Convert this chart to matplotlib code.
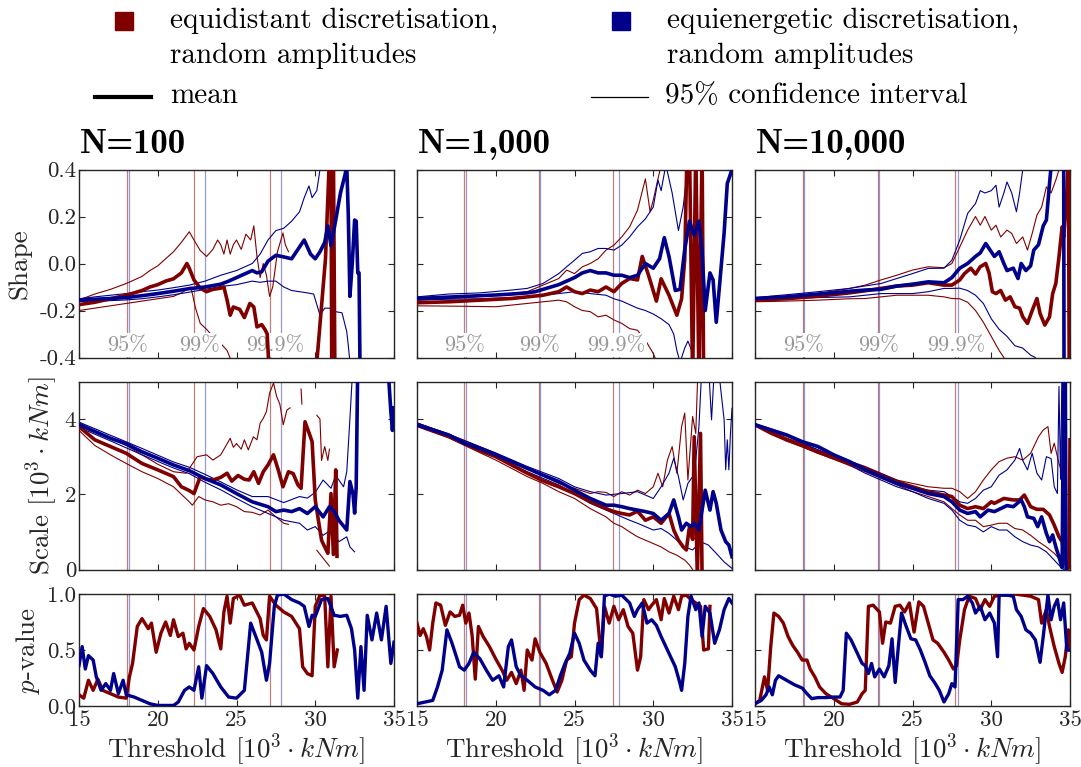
import numpy as np
import matplotlib
matplotlib.use("Agg")
import matplotlib.pyplot as plt
from matplotlib.lines import Line2D

plt.rcParams.update({
    "font.family": "cmr10",
    "mathtext.fontset": "cm",
    "axes.unicode_minus": False,
    "axes.formatter.use_mathtext": True,
})

RED = "#800000"
BLUE = "#00008b"
nan = np.nan

# ---------------------------------------------------------------- N = 100
shape100_eqd_mean = [(15,-0.175),(16,-0.165),(17,-0.15),(18,-0.135),(19,-0.115),(19.5,-0.1),(20,-0.09),(20.5,-0.075),(21,-0.065),(21.5,-0.04),(21.85,0.0),(22.0,-0.02),(22.3,-0.07),(22.7,-0.105),(23.1,-0.12),(23.5,-0.11),(24.0,-0.105),(24.2,-0.1),(24.4,-0.155),(24.6,-0.22),(24.8,-0.185),(25.2,-0.195),(25.5,-0.23),(25.85,-0.17),(26.1,-0.185),(26.3,-0.27),(26.6,-0.26),(26.8,-0.28),(26.95,-0.3),(27.1,-0.5),(29.9,-0.5),(30.1,-0.42),(30.4,-0.18),(30.65,0.02),(30.9,0.45),(31.0,0.45),(31.05,-0.5),(31.15,0.5),(31.25,-0.5)]
shape100_eqd_lo = [(15,-0.2),(16,-0.19),(17,-0.18),(18,-0.17),(19,-0.16),(20,-0.15),(21,-0.14),(21.5,-0.125),(22.1,-0.1),(22.4,-0.19),(22.7,-0.255),(23.1,-0.28),(23.5,-0.31),(24.0,-0.34),(24.4,-0.37),(24.7,-0.42)]
shape100_eqd_hi = [(15,-0.155),(16,-0.13),(17,-0.11),(18,-0.085),(19,-0.055),(19.5,-0.03),(20,-0.01),(20.5,0.02),(21,0.05),(21.5,0.09),(22.0,0.135),(22.3,0.1),(22.7,0.055),(23.1,0.03),(23.5,0.06),(23.8,0.1),(24.0,0.08),(24.2,0.04),(24.4,0.1),(24.6,0.04),(24.8,0.08),(25.0,0.1),(25.3,0.06),(25.6,0.125),(25.9,0.1),(26.1,0.16),(26.3,0.03),(26.5,-0.06),(26.7,0.0),(26.9,-0.05),(27.1,-0.14),(27.3,-0.1),(27.6,0.05),(27.95,0.13),(28.1,0.08),(28.3,0.05)]
shape100_eqe_mean = [(15,-0.155),(16,-0.152),(17,-0.149),(18,-0.145),(19,-0.137),(20,-0.128),(21,-0.118),(22,-0.107),(23,-0.1),(24,-0.088),(24.5,-0.075),(25,-0.06),(25.5,-0.045),(26,-0.03),(26.3,-0.04),(26.6,-0.035),(27,0.01),(27.5,0.035),(28,0.028),(28.5,0.02),(29,0.07),(29.3,0.1),(29.7,0.04),(30,0.02),(30.3,0.05),(30.6,0.09),(30.8,0.16),(31.0,0.075),(31.3,0.185),(31.6,0.3),(31.9,0.38),(32.0,0.42),(32.1,0.2),(32.2,-0.14),(32.35,0.0),(32.5,0.185),(32.6,0.18),(32.7,-0.04),(32.78,-0.04),(32.85,-0.5)]
shape100_eqe_lo = [(15,-0.162),(16,-0.16),(17,-0.158),(18,-0.155),(19,-0.15),(20,-0.142),(21,-0.133),(22,-0.122),(23,-0.11),(24,-0.098),(25,-0.09),(26,-0.075),(26.5,-0.08),(27,-0.075),(27.5,-0.075),(28,-0.1),(28.5,-0.115),(29,-0.12),(29.5,-0.125),(29.9,-0.13),(30.3,-0.22),(30.6,-0.19),(30.9,-0.19),(31.3,-0.205),(31.7,-0.21),(32.0,-0.29),(32.1,-0.35),(32.2,-0.42)]
shape100_eqe_hi = [(15,-0.15),(16,-0.142),(17,-0.135),(18,-0.128),(19,-0.12),(20,-0.113),(21,-0.103),(22,-0.092),(23,-0.075),(24,-0.05),(25,-0.03),(26,0.0),(26.5,0.04),(27,0.1),(27.5,0.14),(28,0.15),(28.5,0.18),(29,0.22),(29.3,0.28),(29.6,0.33),(29.8,0.28),(30.1,0.31),(30.3,0.4),(30.5,0.45)]

scale100_eqd_mean = [(15,3.8),(16,3.45),(17,3.27),(18,3.09),(19,2.82),(20,2.65),(21,2.47),(21.5,2.2),(22.0,2.1),(22.3,2.02),(22.7,2.47),(23.1,2.4),(23.5,2.38),(24.0,2.45),(24.4,2.56),(24.7,2.35),(25.1,2.5),(25.5,2.4),(25.8,2.38),(26.1,2.6),(26.4,2.29),(26.7,2.6),(27.0,2.78),(27.35,3.05),(27.65,2.65),(27.95,2.2),(28.3,2.6),(28.6,2.55),(28.9,2.25),(29.1,2.16),(29.35,3.93),(29.65,3.58),(29.8,3.4),(30.0,1.85),(30.2,1.31),(30.4,0.78),(30.6,0.6),(30.8,0.43),(31.0,2.02),(31.15,0.4),(31.3,2.65),(31.38,0.35)]
scale100_eqd_hi = [(15,3.9),(16,3.7),(17,3.5),(18,3.3),(19,3.05),(20,2.8),(21,2.6),(21.8,2.56),(22.5,3.0),(23.1,3.05),(23.5,2.91),(24.0,3.05),(24.6,3.49),(24.8,3.25),(25.0,3.35),(25.3,3.2),(25.5,3.45),(25.75,3.18),(26.07,3.53),(26.3,3.45),(26.5,3.89),(26.7,4.02),(26.9,4.2),(27.1,4.69),(27.35,4.96),(27.55,4.6),(27.75,4.4),(27.97,3.85),(28.2,4.24),(28.4,4.3),(28.5,nan),(29.1,4.8),(29.15,4.4),(29.3,nan),(30.1,4.1),(30.3,4.0),(30.4,2.9),(30.6,3.27),(30.8,2.9),(30.9,3.2)]
scale100_eqd_lo = [(15,3.7),(16,3.3),(17,3.05),(18,2.82),(19,2.6),(20,2.42),(21,2.2),(22,1.8),(22.2,1.71),(22.6,1.94),(23,1.85),(23.5,1.8),(24,1.71),(24.5,1.75),(25,1.67),(25.5,1.54),(26,1.52),(26.5,1.45),(27,1.58),(27.5,1.4),(28,1.23),(28.3,1.2),(28.4,nan),(30.1,0.51),(30.5,0.3),(30.9,0.09)]
scale100_eqe_mean = [(15,3.85),(16,3.67),(17,3.49),(18,3.34),(19,3.13),(20,2.96),(21,2.78),(22,2.63),(23,2.42),(24,2.25),(25,2.02),(26,1.8),(27,1.67),(27.5,1.54),(28,1.58),(28.5,1.54),(29,1.62),(29.5,1.49),(30,1.67),(30.5,1.4),(30.9,1.67),(31.2,1.55),(31.5,1.31),(32,1.05),(32.2,2.34),(32.4,2.0),(32.5,1.5),(32.6,2.2),(32.7,5.5),(34.6,5.5),(34.8,4.2),(34.9,3.7),(35,4.3)]
scale100_eqe_hi = [(15,3.92),(17,3.57),(19,3.22),(21,2.86),(22,2.72),(23,2.53),(24,2.33),(25,2.12),(26,1.94),(27,1.94),(28,1.78),(29,1.94),(29.5,1.9),(30,2.05),(30.5,2.38),(31,2.16),(31.3,2.5),(31.8,2.2),(32.0,2.6),(32.2,4.0),(32.4,5.5)]
scale100_eqe_lo = [(15,3.78),(17,3.42),(19,3.05),(21,2.7),(22,2.55),(23,2.32),(24,2.12),(25,1.89),(26,1.67),(27,1.49),(28,1.31),(29,1.23),(29.5,1.05),(30,1.14),(30.5,0.91),(31,1.05),(31.5,0.74),(32,0.87),(32.2,0.6),(32.5,0.47)]

p100_eqd = [(15,0.1),(15.3,0.07),(15.6,0.23),(15.9,0.14),(16.2,0.24),(16.5,0.14),(17,0.11),(17.5,0.08),(18,0.07),(18.2,0.26),(18.4,0.38),(18.7,0.71),(19,0.78),(19.4,0.69),(19.6,0.74),(19.9,0.48),(20.2,0.65),(20.5,0.75),(20.8,0.63),(21,0.77),(21.3,0.62),(21.6,0.65),(21.8,0.51),(22,0.56),(22.3,0.5),(22.6,0.71),(22.9,0.87),(23.3,0.8),(23.7,0.68),(24,0.51),(24.2,0.84),(24.4,0.98),(24.6,0.74),(24.8,0.96),(25.2,0.99),(25.5,0.9),(26,0.92),(26.5,0.78),(26.7,0.63),(26.9,0.59),(27.1,0.98),(27.5,0.9),(28,0.84),(28.5,0.8),(29,0.69),(29.2,0.35),(29.5,0.29),(29.8,0.27),(30,0.89),(30.3,0.99),(30.6,0.98),(30.8,0.35),(31,0.98),(31.2,0.35),(31.4,0.5)]
p100_eqe = [(15,0.36),(15.2,0.53),(15.4,0.33),(15.6,0.45),(15.9,0.41),(16.1,0.26),(16.4,0.14),(16.7,0.2),(17,0.14),(17.2,0.29),(17.5,0.11),(17.8,0.23),(18,0.1),(18.5,0.08),(19,0.05),(19.5,0.02),(20,0.005),(21,0.005),(21.3,0.035),(21.7,0.14),(22,0.17),(22.3,0.14),(22.6,0.35),(22.8,0.07),(23.1,0.36),(23.5,0.29),(24,0.17),(24.5,0.08),(25,0.07),(25.5,0.14),(25.9,0.74),(26.2,0.63),(26.6,0.48),(26.9,0.23),(27.1,0.38),(27.4,0.89),(27.6,0.99),(28,1.0),(28.5,0.95),(29,0.92),(29.3,0.89),(29.6,0.71),(29.8,0.81),(30,0.8),(30.4,0.95),(30.8,0.96),(31.2,0.81),(31.6,0.8),(32,0.81),(32.3,0.69),(32.5,0.5),(32.7,0.07),(32.9,0.53),(33.1,0.14),(33.3,0.81),(33.6,0.59),(33.9,0.83),(34.2,0.59),(34.5,0.89),(34.8,0.38),(35,0.57)]

# ---------------------------------------------------------------- N = 1,000
shape1k_eqd_mean = [(15,-0.167),(17,-0.163),(19,-0.156),(21,-0.149),(22,-0.142),(23,-0.135),(24,-0.12),(24.5,-0.1),(25,-0.12),(25.5,-0.128),(26,-0.113),(26.5,-0.12),(27,-0.1),(27.5,-0.12),(28,-0.085),(28.5,-0.064),(29,-0.07),(29.3,0.03),(29.7,-0.05),(30.2,-0.16),(30.5,-0.065),(31.0,-0.135),(31.5,-0.22),(31.8,-0.15),(32.0,0.02),(32.15,0.5),(32.3,0.5),(32.5,-0.5),(32.7,0.5),(32.9,-0.5),(33.1,0.5),(33.2,-0.5)]
shape1k_eqd_hi = [(15,-0.156),(18,-0.145),(20,-0.135),(22,-0.12),(23,-0.092),(24,-0.064),(24.5,-0.028),(25,-0.043),(25.5,-0.014),(26,0.0),(26.5,0.02),(27,0.057),(27.5,0.078),(28,0.113),(28.5,0.156),(29,0.227),(29.5,0.36),(29.8,0.22),(30.0,0.27),(30.3,0.36),(30.6,0.45)]
shape1k_eqd_lo = [(15,-0.18),(18,-0.182),(20,-0.184),(22,-0.17),(23,-0.163),(24,-0.156),(24.5,-0.163),(25,-0.184),(25.5,-0.2),(26,-0.205),(26.5,-0.227),(27,-0.22),(27.5,-0.24),(28,-0.255),(28.5,-0.277),(29,-0.284),(29.5,-0.326),(30,-0.383),(30.3,-0.43)]
shape1k_eqe_mean = [(15,-0.148),(16,-0.146),(17,-0.143),(18,-0.14),(19,-0.137),(20,-0.134),(21,-0.13),(22,-0.125),(22.5,-0.12),(23,-0.11),(23.5,-0.1),(24,-0.09),(24.5,-0.075),(25,-0.06),(25.5,-0.04),(26,-0.03),(26.5,-0.04),(27,-0.04),(27.5,-0.05),(28,-0.05),(28.5,-0.06),(29,-0.05),(29.5,0.0),(30,-0.02),(30.4,0.02),(30.7,0.11),(31.0,0.03),(31.4,-0.115),(31.7,-0.11),(32.0,0.06),(32.3,0.18),(32.6,0.12),(32.9,0.18),(33.1,0.05),(33.3,-0.2),(33.6,-0.04),(33.8,-0.07),(34.0,-0.25),(34.2,-0.1),(34.5,0.13),(34.7,0.34),(35,0.4)]
shape1k_eqe_hi = [(15,-0.142),(17,-0.13),(19,-0.125),(21,-0.113),(22,-0.106),(23,-0.085),(24,-0.043),(24.5,-0.014),(25,0.014),(25.5,0.043),(26,0.05),(26.5,0.064),(27,0.064),(27.5,0.057),(28,0.078),(28.5,0.113),(29,0.156),(29.5,0.19),(30,0.24),(30.3,0.355),(30.5,0.31),(30.8,0.42),(31.2,0.3),(31.6,0.14),(31.9,0.24),(32.1,0.36),(32.3,0.5)]
shape1k_eqe_lo = [(15,-0.156),(17,-0.152),(19,-0.15),(21,-0.145),(22,-0.142),(23,-0.135),(24,-0.128),(25,-0.12),(26,-0.128),(27,-0.135),(27.5,-0.15),(28,-0.16),(28.5,-0.175),(29,-0.19),(29.5,-0.2),(30,-0.215),(30.5,-0.235),(31,-0.26),(31.3,-0.3),(31.5,-0.37),(31.7,-0.42),(32.0,-0.36),(32.2,-0.33),(32.5,-0.38),(32.7,-0.45)]

scale1k_eqd_mean = [(15,3.85),(17,3.55),(19,3.16),(20,3.0),(21,2.78),(22,2.56),(23,2.36),(24,2.2),(25,2.02),(26,1.8),(27,1.62),(27.5,1.54),(28,1.49),(28.5,1.45),(29,1.55),(29.5,1.31),(30,1.4),(30.5,1.23),(31,1.49),(31.3,1.05),(31.6,0.78),(31.9,0.6),(32.1,0.52),(32.3,1.14),(32.5,0.8),(32.6,3.53),(32.8,-0.2),(33.0,3.62),(33.1,-0.2)]
scale1k_eqd_hi = [(15,3.9),(17,3.6),(20,3.09),(22,2.68),(24,2.29),(25,2.16),(26,2.02),(26.5,2.07),(27,2.05),(27.5,1.94),(28,2.07),(28.5,1.98),(29,2.11),(29.5,2.02),(30,2.2),(30.3,2.56),(30.6,2.2),(30.9,2.91),(31.2,3.27),(31.5,2.56),(31.8,3.8),(32.0,4.16),(32.2,2.38),(32.5,4.07),(32.7,3.62),(32.85,5.5)]
scale1k_eqd_lo = [(15,3.8),(17,3.5),(20,2.91),(22,2.47),(23,2.29),(24,2.07),(25,1.89),(26,1.62),(27,1.4),(27.5,1.23),(28,1.14),(28.5,1.0),(29,0.87),(29.5,0.78),(30,0.69),(30.5,0.6),(31,0.47),(31.5,0.38),(32,0.25),(32.3,0.12),(32.5,0.0)]
scale1k_eqe_mean = [(15,3.85),(17,3.58),(18,3.36),(19,3.22),(20,3.05),(21,2.87),(22,2.69),(23,2.51),(24,2.34),(25,2.11),(26,1.89),(26.5,1.8),(27,1.71),(27.5,1.71),(28,1.67),(28.5,1.62),(29,1.58),(29.5,1.54),(30,1.49),(30.5,1.31),(31,1.49),(31.3,1.85),(31.6,1.4),(31.8,1.05),(32.1,1.23),(32.4,1.14),(32.6,1.23),(32.9,1.05),(33.1,1.58),(33.3,2.11),(33.6,1.58),(33.8,2.07),(34.0,1.76),(34.3,1.05),(34.6,0.74),(34.8,0.65),(35,0.34)]
scale1k_eqe_hi = [(15,3.9),(17,3.6),(20,3.1),(22,2.74),(24,2.42),(25,2.2),(26,2.07),(27,1.98),(28,2.02),(29,2.07),(30,1.89),(30.5,2.2),(31,2.56),(31.3,2.96),(31.6,2.47),(31.9,1.85),(32.2,2.29),(32.5,2.47),(32.7,2.91),(32.9,3.8),(33.1,5.5),(33.5,5.5),(33.7,3.98),(33.9,5.5),(34.1,5.5),(34.5,3.98),(34.6,2.65),(34.7,3.45),(34.8,2.65),(34.9,3.6),(35,4.29)]
scale1k_eqe_lo = [(15,3.82),(17,3.52),(20,3.0),(22,2.6),(24,2.25),(25,2.02),(26,1.76),(27,1.58),(28,1.4),(28.5,1.31),(29,1.23),(29.5,1.14),(30,1.05),(30.5,1.09),(31,0.96),(31.5,0.78),(32,0.6),(32.5,0.52),(33,0.74),(33.5,0.65),(34,0.43),(34.5,0.2),(35,0.03)]

p1k_eqd = [(15,0.74),(15.2,0.63),(15.4,0.69),(15.6,0.62),(15.8,0.5),(16.0,0.74),(16.2,0.92),(16.5,0.9),(16.8,0.72),(17.1,0.84),(17.4,0.8),(17.7,0.81),(17.9,0.9),(18.1,0.74),(18.3,0.83),(18.5,0.63),(18.7,0.24),(18.9,0.71),(19.2,0.62),(19.6,0.53),(20,0.42),(20.4,0.32),(20.7,0.23),(21.0,0.3),(21.3,0.2),(21.6,0.32),(21.8,0.14),(22.0,0.5),(22.3,0.41),(22.5,0.6),(22.8,0.48),(23.2,0.38),(23.6,0.23),(23.9,0.125),(24.2,0.23),(24.5,0.41),(24.8,0.44),(25.0,0.74),(25.3,0.95),(25.6,0.99),(26.0,0.96),(26.4,0.87),(26.7,0.44),(26.9,0.89),(27.2,0.74),(27.5,0.89),(27.8,0.77),(28.1,0.86),(28.4,0.71),(28.7,0.65),(29.0,0.32),(29.2,0.44),(29.4,0.95),(29.7,0.86),(29.9,0.9),(30.2,0.95),(30.5,0.77),(30.7,0.96),(31.0,0.83),(31.3,0.98),(31.6,0.86),(31.8,0.98),(32.1,0.99),(32.4,0.95),(32.7,0.92),(33.0,0.89),(33.2,0.5),(33.5,0.51),(33.6,0.89)]
p1k_eqe = [(15,0.02),(15.5,0.035),(16.0,0.05),(16.3,0.17),(16.6,0.32),(16.9,0.68),(17.2,0.57),(17.5,0.44),(17.7,0.35),(18.0,0.32),(18.3,0.38),(18.6,0.48),(19.0,0.42),(19.4,0.32),(19.8,0.23),(20.2,0.27),(20.5,0.17),(20.8,0.53),(21.0,0.59),(21.3,0.35),(21.6,0.27),(22.0,0.23),(22.5,0.17),(23.0,0.14),(23.4,0.1),(23.8,0.14),(24.1,0.27),(24.4,0.38),(24.7,0.47),(25.0,0.65),(25.3,0.56),(25.6,0.41),(26.0,0.32),(26.3,0.27),(26.5,0.56),(26.7,0.44),(26.9,0.98),(27.2,1.0),(27.6,0.98),(28.0,0.99),(28.5,0.92),(28.8,0.8),(29.0,0.86),(29.3,0.92),(29.6,0.74),(29.9,0.77),(30.2,0.72),(30.5,0.62),(30.8,0.53),(31.1,0.44),(31.4,0.35),(31.7,0.2),(31.8,0.14),(32.0,0.38),(32.2,0.8),(32.4,0.98),(32.7,0.86),(32.9,0.92),(33.1,0.62),(33.3,0.89),(33.6,0.83),(33.9,0.56),(34.2,0.68),(34.5,0.86),(34.8,0.96),(35,0.92)]

# ---------------------------------------------------------------- N = 10,000
shape10k_eqd_mean = [(15,-0.156),(17,-0.15),(19,-0.139),(21,-0.125),(22,-0.116),(23,-0.106),(24,-0.096),(25,-0.092),(26,-0.082),(27,-0.092),(27.5,-0.092),(28,-0.07),(28.3,-0.043),(28.7,-0.02),(29.0,-0.045),(29.3,-0.014),(29.65,0.0),(29.86,-0.04),(30.07,-0.12),(30.3,-0.128),(30.6,-0.115),(30.9,-0.156),(31.2,-0.142),(31.5,-0.184),(31.8,-0.19),(32.0,-0.227),(32.3,-0.255),(32.6,-0.2),(32.9,-0.149),(33.1,-0.213),(33.4,-0.262),(33.7,-0.227),(33.9,-0.128),(34.1,-0.085),(34.3,0.028),(34.5,0.156),(34.6,0.113),(34.8,0.3),(34.9,0.45),(34.95,-0.45)]
shape10k_eqd_hi = [(15,-0.153),(17,-0.142),(19,-0.128),(21,-0.106),(22,-0.092),(23,-0.07),(24,-0.05),(25,-0.028),(26,-0.014),(27,-0.018),(27.5,0.0),(28,0.07),(28.5,0.142),(29,0.2),(29.3,0.163),(29.6,0.2),(30,0.142),(30.3,0.163),(30.6,0.113),(31,0.142),(31.3,0.128),(31.6,0.085),(32,0.113),(32.3,0.057),(32.6,0.128),(32.9,0.206),(33.2,0.24),(33.5,0.326),(33.8,0.3),(34.1,0.355),(34.4,0.42)]
shape10k_eqd_lo = [(15,-0.163),(17,-0.16),(19,-0.156),(21,-0.15),(22,-0.149),(23,-0.142),(24,-0.135),(25,-0.135),(26,-0.135),(27,-0.142),(27.5,-0.149),(28,-0.15),(28.5,-0.165),(29,-0.2),(29.5,-0.25),(30,-0.31),(30.5,-0.37),(30.8,-0.4),(31.0,-0.43)]
shape10k_eqe_mean = [(15,-0.149),(17,-0.142),(19,-0.13),(20,-0.125),(21,-0.118),(22,-0.113),(23,-0.11),(24,-0.096),(25,-0.088),(26,-0.078),(27,-0.082),(27.5,-0.06),(28,-0.02),(28.5,0.0),(29,0.03),(29.3,0.045),(29.65,0.085),(30,0.05),(30.2,0.03),(30.5,0.05),(30.8,0.0),(31.0,-0.03),(31.4,-0.02),(31.7,-0.064),(31.9,0.0),(32.2,-0.03),(32.5,-0.01),(32.7,0.057),(33.0,0.08),(33.3,0.16),(33.5,0.185),(33.7,0.34),(33.85,0.45),(34.6,0.45),(34.62,-0.45)]
shape10k_eqe_hi = [(15,-0.145),(17,-0.133),(19,-0.12),(21,-0.106),(23,-0.085),(24,-0.064),(25,-0.043),(26,-0.021),(27,-0.02),(27.5,0.014),(28,0.1),(28.5,0.213),(29,0.255),(29.3,0.31),(29.6,0.3),(30,0.31),(30.3,0.333),(30.5,0.24),(30.8,0.3),(31.0,0.347),(31.3,0.3),(31.6,0.22),(31.8,0.3),(32.0,0.4),(32.3,0.45)]
shape10k_eqe_lo = [(15,-0.155),(17,-0.15),(19,-0.145),(21,-0.142),(22,-0.135),(23,-0.128),(24,-0.128),(25,-0.128),(26,-0.12),(27,-0.106),(27.5,-0.106),(28,-0.105),(28.5,-0.115),(29,-0.135),(29.5,-0.17),(30,-0.235),(30.5,-0.28),(31,-0.31),(31.5,-0.35),(32,-0.36),(32.5,-0.39),(32.8,-0.4),(33.0,-0.43)]

scale10k_eqd_mean = [(15,3.85),(16,3.63),(17,3.45),(18,3.3),(19,3.12),(20,2.97),(21,2.82),(22,2.68),(23,2.5),(24,2.33),(25,2.2),(26,2.07),(27,1.98),(27.5,1.94),(28,1.71),(28.5,1.62),(29,1.67),(29.5,1.62),(30,1.8),(30.2,1.76),(30.8,1.89),(31.4,1.85),(31.8,1.85),(32.1,1.98),(32.5,1.67),(32.9,1.6),(33.3,1.6),(33.7,1.45),(34.0,1.18),(34.3,0.87),(34.5,0.74),(34.7,0.25),(34.85,0.03),(34.95,0.05),(35,3.45)]
scale10k_eqd_hi = [(15,3.88),(17,3.5),(20,3.02),(22,2.74),(24,2.38),(25,2.29),(26,2.2),(27,2.16),(27.5,2.16),(28,2.07),(28.5,1.89),(29,2.07),(29.5,2.38),(30,2.65),(30.5,2.87),(31,2.96),(31.5,3.0),(32,2.91),(32.5,3.09),(33,3.53),(33.3,3.71),(33.6,3.8),(33.8,3.09),(34.0,3.36),(34.3,2.82),(34.5,2.56)]
scale10k_eqd_lo = [(15,3.82),(17,3.42),(20,2.93),(22,2.6),(24,2.25),(25,2.07),(26,1.94),(27,1.8),(27.5,1.62),(28,1.45),(28.5,1.31),(29,1.31),(29.5,1.14),(30,1.18),(30.5,1.23),(31,1.23),(31.5,1.09),(32,1.05),(32.5,0.91),(33,0.74),(33.5,0.6),(34,0.43),(34.5,0.2),(34.9,0.03)]
scale10k_eqe_mean = [(15,3.85),(17,3.58),(18,3.4),(19,3.27),(20,3.05),(21,2.87),(22,2.65),(23,2.47),(24,2.29),(25,2.16),(26,2.02),(27,1.94),(27.5,1.8),(28,1.58),(28.5,1.49),(29,1.54),(29.3,1.4),(29.8,1.58),(30.2,1.54),(30.6,1.62),(31.0,1.7),(31.4,1.67),(31.9,1.85),(32.1,1.67),(32.3,1.4),(32.7,1.36),(32.95,1.14),(33.2,1.4),(33.5,0.96),(33.7,0.74),(33.9,0.92),(34.1,0.6),(34.3,0.34),(34.5,0.05),(34.6,5.5),(34.7,5.5),(34.75,0.0),(34.8,-0.2)]
scale10k_eqe_hi = [(15,3.88),(17,3.6),(20,3.06),(22,2.72),(24,2.38),(25,2.2),(26,2.11),(27,2.07),(27.5,1.94),(28,1.8),(28.5,1.76),(29,1.89),(29.5,2.11),(30,2.2),(30.5,2.51),(31,2.65),(31.5,2.91),(31.8,3.22),(32,2.9),(32.3,2.65),(32.6,3.09),(32.9,2.56),(33.2,2.38),(33.5,3.0),(33.8,2.95),(34.0,2.2),(34.2,2.02),(34.3,4.87),(34.4,2.4),(34.5,5.5)]
scale10k_eqe_lo = [(15,3.82),(17,3.55),(20,3.0),(22,2.56),(24,2.2),(25,2.07),(26,1.89),(27,1.76),(27.5,1.58),(28,1.31),(28.5,1.18),(29,1.14),(29.5,1.0),(30,1.14),(30.5,1.05),(31,1.05),(31.5,0.87),(32,0.74),(32.5,0.65),(33,0.6),(33.5,0.47),(34,0.25),(34.4,0.07),(34.6,0.0)]

p10k_eqd = [(15,0.02),(15.3,0.05),(15.6,0.26),(15.8,0.14),(16.0,0.53),(16.2,0.83),(16.5,0.8),(16.8,0.74),(17.1,0.62),(17.4,0.54),(17.7,0.48),(18.0,0.41),(18.3,0.41),(18.5,0.33),(18.8,0.26),(19.1,0.17),(19.5,0.11),(20.0,0.066),(20.5,0.02),(21,0.015),(21.5,0.036),(21.8,0.11),(22.0,0.14),(22.2,0.89),(22.5,0.9),(22.9,0.84),(23.1,0.56),(23.3,0.75),(23.6,0.74),(23.9,0.89),(24.2,0.9),(24.5,0.84),(24.8,0.92),(25.1,0.66),(25.4,0.93),(25.7,0.89),(26.0,0.74),(26.3,0.59),(26.6,0.56),(27.0,0.48),(27.3,0.41),(27.6,0.33),(27.8,0.36),(28.0,0.59),(28.3,0.86),(28.6,0.98),(29.0,0.96),(29.3,0.86),(29.6,0.95),(29.9,0.89),(30.2,0.98),(30.6,0.99),(31.0,0.99),(31.5,1.0),(32.0,0.99),(32.5,0.98),(33.0,0.95),(33.2,0.74),(33.5,0.86),(33.7,0.71),(34.0,0.53),(34.3,0.38),(34.5,0.3),(34.7,0.44),(34.9,0.68),(35,0.5)]
p10k_eqe = [(15,0.02),(15.4,0.05),(15.7,0.1),(15.9,0.17),(16.1,0.1),(16.3,0.23),(16.5,0.27),(17.0,0.23),(17.5,0.19),(18.0,0.16),(18.3,0.11),(18.6,0.066),(19.0,0.075),(19.5,0.075),(20.0,0.08),(20.4,0.08),(20.6,0.14),(20.8,0.65),(21.1,0.59),(21.5,0.47),(21.8,0.38),(22.0,0.36),(22.2,0.29),(22.4,0.38),(22.6,0.26),(22.9,0.33),(23.2,0.26),(23.5,0.36),(23.7,0.6),(23.9,0.21),(24.1,0.53),(24.3,0.83),(24.6,0.71),(24.9,0.6),(25.2,0.59),(25.5,0.5),(25.8,0.39),(26.1,0.27),(26.4,0.21),(26.7,0.14),(27.0,0.036),(27.3,0.11),(27.5,0.2),(27.7,0.17),(27.9,0.95),(28.2,0.95),(28.5,0.98),(28.8,0.92),(29.0,0.83),(29.3,0.89),(29.6,0.77),(29.9,0.83),(30.2,0.74),(30.4,0.44),(30.5,0.99),(31.0,0.99),(31.4,0.98),(31.6,0.86),(31.9,0.8),(32.2,0.68),(32.5,0.65),(32.8,0.59),(33.1,0.39),(33.3,0.62),(33.6,0.99),(33.8,0.77),(34.0,0.89),(34.2,0.95),(34.4,0.77),(34.6,0.92),(34.8,0.5),(35,0.5)]

# threshold quantiles (95 %, 99 %, 99.9 %) for each discretisation
quant_eqd = {100: [18.03, 22.3, 27.13], 1000: [17.97, 22.72, 27.43], 10000: [18.06, 22.79, 27.7]}
quant_eqe = {100: [18.17, 23.0, 27.83], 1000: [18.1, 22.83, 27.85], 10000: [18.14, 22.88, 27.89]}
quant_labels = ["95%", "99%", "99.9%"]

sample_sizes = [100, 1000, 10000]
titles = ["N=100", "N=1,000", "N=10,000"]

panels = {
    100: dict(
        shape=(shape100_eqd_mean, shape100_eqd_lo, shape100_eqd_hi,
               shape100_eqe_mean, shape100_eqe_lo, shape100_eqe_hi),
        scale=(scale100_eqd_mean, scale100_eqd_lo, scale100_eqd_hi,
               scale100_eqe_mean, scale100_eqe_lo, scale100_eqe_hi),
        p=(p100_eqd, p100_eqe)),
    1000: dict(
        shape=(shape1k_eqd_mean, shape1k_eqd_lo, shape1k_eqd_hi,
               shape1k_eqe_mean, shape1k_eqe_lo, shape1k_eqe_hi),
        scale=(scale1k_eqd_mean, scale1k_eqd_lo, scale1k_eqd_hi,
               scale1k_eqe_mean, scale1k_eqe_lo, scale1k_eqe_hi),
        p=(p1k_eqd, p1k_eqe)),
    10000: dict(
        shape=(shape10k_eqd_mean, shape10k_eqd_lo, shape10k_eqd_hi,
               shape10k_eqe_mean, shape10k_eqe_lo, shape10k_eqe_hi),
        scale=(scale10k_eqd_mean, scale10k_eqd_lo, scale10k_eqd_hi,
               scale10k_eqe_mean, scale10k_eqe_lo, scale10k_eqe_hi),
        p=(p10k_eqd, p10k_eqe)),
}

# ---------------------------------------------------------------- layout
W, H = 1081, 767
fig = plt.figure(figsize=(W / 100, H / 100), dpi=100)


def fx(px):
    return px / W


def fy(py):
    return 1 - py / H


col_left = [79, 417, 755]
col_width = 315
row_span = [(169.5, 357.5), (381.5, 569.5), (594, 706)]

TICK_COLOR = "#262626"
MEAN_LW = 2.6
CI_LW = 0.8
FS_TICK = 16.5
FS_LABEL = 19.5


def xy(series):
    arr = np.array(series, dtype=float)
    return arr[:, 0], arr[:, 1]


def style_axes(ax):
    ax.set_xlim(15, 35)
    ax.set_xticks([15, 20, 25, 30, 35])
    ax.tick_params(direction="in", top=True, right=True, length=4, width=0.8,
                   colors=TICK_COLOR, labelsize=FS_TICK, pad=2)
    for sp in ax.spines.values():
        sp.set_color(TICK_COLOR)
        sp.set_linewidth(1.0)


def quantile_lines(ax, n):
    for q in quant_eqd[n]:
        ax.axvline(q, color=RED, alpha=0.5, lw=0.9, zorder=1)
    for q in quant_eqe[n]:
        ax.axvline(q, color=BLUE, alpha=0.4, lw=0.9, zorder=1)


for j, n in enumerate(sample_sizes):
    left = col_left[j]
    axes = []
    for i, (top, bottom) in enumerate(row_span):
        ax = fig.add_axes([fx(left), fy(bottom), col_width / W, (bottom - top) / H])
        style_axes(ax)
        quantile_lines(ax, n)
        axes.append(ax)
    ax_shape, ax_scale, ax_p = axes

    for ax, key in ((ax_shape, "shape"), (ax_scale, "scale")):
        em, el, eh, bm, bl, bh = panels[n][key]
        for s in (el, eh):
            ax.plot(*xy(s), color=RED, lw=CI_LW, zorder=2)
        for s in (bl, bh):
            ax.plot(*xy(s), color=BLUE, lw=CI_LW, zorder=2)
        ax.plot(*xy(em), color=RED, lw=MEAN_LW, zorder=3)
        ax.plot(*xy(bm), color=BLUE, lw=MEAN_LW, zorder=4)

    pe, pb = panels[n]["p"]
    ax_p.plot(*xy(pe), color=RED, lw=2.4, zorder=3)
    ax_p.plot(*xy(pb), color=BLUE, lw=2.4, zorder=4)

    ax_shape.set_ylim(-0.4, 0.4)
    ax_shape.set_yticks([-0.4, -0.2, 0.0, 0.2, 0.4])
    ax_scale.set_ylim(0, 5)
    ax_scale.set_yticks([0, 2, 4])
    ax_p.set_ylim(0, 1)
    ax_p.set_yticks([0, 0.5, 1.0])

    # quantile annotations on a white patch that hides the marker lines
    for qa, qb, lab in zip(quant_eqd[n], quant_eqe[n], quant_labels):
        ax_shape.text((qa + qb) / 2, -0.372, lab, ha="center", va="baseline",
                      fontsize=16, color="#999999", zorder=2.5,
                      bbox=dict(facecolor="white", edgecolor="none", pad=1.5))

    if j == 0:
        ax_shape.set_yticklabels(["-0.4", "-0.2", "0.0", "0.2", "0.4"])
        ax_scale.set_yticklabels(["0", "2", "4"])
        ax_p.set_yticklabels(["0.0", "0.5", "1.0"])
        ax_shape.set_ylabel("Shape", fontsize=FS_LABEL, color=TICK_COLOR)
        ax_scale.set_ylabel(r"Scale [$10^3 \cdot kNm$]", fontsize=FS_LABEL, color=TICK_COLOR)
        ax_p.set_ylabel(r"$p$-value", fontsize=FS_LABEL, color=TICK_COLOR)
        ax_shape.yaxis.set_label_coords(-0.152, 0.5)
        ax_scale.yaxis.set_label_coords(-0.060, 0.5)
        ax_p.yaxis.set_label_coords(-0.117, 0.5)
    else:
        for ax in axes:
            ax.tick_params(labelleft=False)

    for ax in (ax_shape, ax_scale):
        ax.tick_params(labelbottom=False)
    ax_p.tick_params(axis="x", pad=3.5)
    ax_p.set_xticklabels(["15", "20", "25", "30", "35"])
    ax_p.set_xlabel(r"Threshold [$10^3 \cdot kNm$]", fontsize=FS_LABEL, color=TICK_COLOR)
    ax_p.xaxis.set_label_coords(0.5, -0.232)

    fig.text(fx(left + 1), fy(153), titles[j], family="cmb10", fontsize=25,
             ha="left", va="baseline")

# ---------------------------------------------------------------- legend
FS_LEG = 21
fig.add_artist(Line2D([fx(124)], [fy(21)], marker="s", ms=13, color=RED, ls="none",
                      transform=fig.transFigure))
fig.add_artist(Line2D([fx(621)], [fy(21)], marker="s", ms=13, color=BLUE, ls="none",
                      transform=fig.transFigure))
fig.add_artist(Line2D([fx(95), fx(151)], [fy(96.5), fy(96.5)], color="black", lw=3.0,
                      transform=fig.transFigure))
fig.add_artist(Line2D([fx(591), fx(648)], [fy(96.5), fy(96.5)], color="black", lw=0.9,
                      transform=fig.transFigure))
fig.text(fx(170), fy(28.5), "equidistant discretisation,", fontsize=FS_LEG, va="baseline")
fig.text(fx(170), fy(63), "random amplitudes", fontsize=FS_LEG, va="baseline")
fig.text(fx(667), fy(28.5), "equienergetic discretisation,", fontsize=FS_LEG, va="baseline")
fig.text(fx(667), fy(63), "random amplitudes", fontsize=FS_LEG, va="baseline")
fig.text(fx(170), fy(103), "mean", fontsize=FS_LEG, va="baseline")
fig.text(fx(665), fy(103), "95% confidence interval", fontsize=FS_LEG, va="baseline")

fig.savefig("out.png", dpi=100)
